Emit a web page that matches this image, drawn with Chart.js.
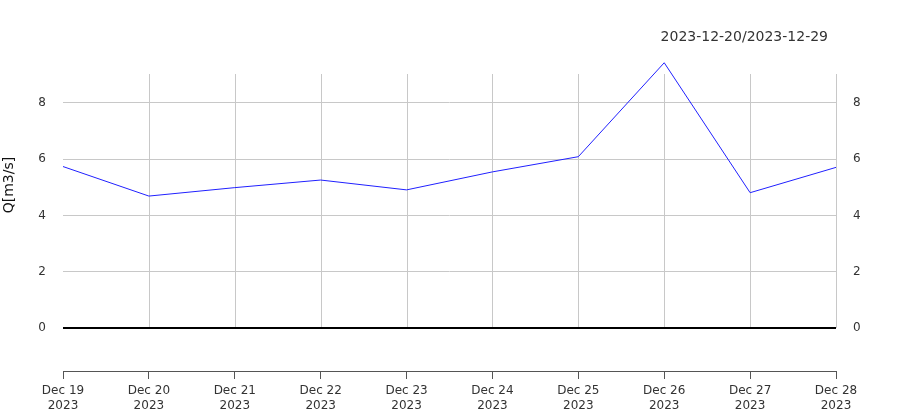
<!DOCTYPE html>
<html><head><meta charset="utf-8">
<script src="https://cdn.jsdelivr.net/npm/chart.js@4/dist/chart.umd.min.js"></script>
<style>html,body{margin:0;padding:0;background:#fff;}#wrap{width:900px;height:420px;}</style>
</head><body><div id="wrap"><canvas id="c" width="900" height="420"></canvas></div>
<script>
const categories = [["Dec 19","2023"],["Dec 20","2023"],["Dec 21","2023"],["Dec 22","2023"],["Dec 23","2023"],["Dec 24","2023"],["Dec 25","2023"],["Dec 26","2023"],["Dec 27","2023"],["Dec 28","2023"]];
const discharge = [5.74, 4.69, 4.99, 5.26, 4.91, 5.55, 6.09, 9.43, 4.81, 5.71];
const yTicks = [0, 2, 4, 6, 8];
const periodTitle = "2023-12-20/2023-12-29";
const yTitle = "Q[m3/s]";
const yMin = -1.53, yMax = 9.03;

const FONT = "'DejaVu Sans', sans-serif";
const extras = {
  id: 'extras',
  beforeDatasetsDraw(chart) {
    const {ctx, chartArea} = chart;
    const x = chart.scales.x, y = chart.scales.y;
    const y0 = y.getPixelForValue(0);
    ctx.save();
    ctx.strokeStyle = '#c8c8c8';
    ctx.lineWidth = 1;
    for (let i = 1; i < categories.length; i++) {
      const px = Math.round(x.getPixelForValue(i)) + 0.5;
      ctx.beginPath();
      ctx.moveTo(px, chartArea.top);
      ctx.lineTo(px, y0);
      ctx.stroke();
    }
    ctx.strokeStyle = '#000';
    ctx.lineWidth = 2;
    ctx.beginPath();
    ctx.moveTo(chartArea.left, y0);
    ctx.lineTo(chartArea.right, y0);
    ctx.stroke();
    ctx.restore();
  },
  afterDraw(chart) {
    const ctx = chart.ctx;
    ctx.save();
    ctx.fillStyle = '#333';
    ctx.font = "14px " + FONT;
    ctx.textAlign = 'right';
    ctx.textBaseline = 'middle';
    ctx.fillText(periodTitle, 828, 37);
    ctx.translate(9, 185);
    ctx.rotate(-Math.PI / 2);
    ctx.textAlign = 'center';
    ctx.fillStyle = '#111';
    ctx.fillText(yTitle, 0, 0);
    ctx.restore();
  }
};

const keepTicks = (scale) => { scale.ticks = yTicks.map(v => ({value: v})); };

new Chart(document.getElementById('c'), {
  type: 'line',
  data: {
    labels: categories,
    datasets: [{
      data: discharge,
      borderColor: '#2020ff',
      borderWidth: 1,
      pointRadius: 0,
      tension: 0,
      fill: false,
      clip: false,
      yAxisID: 'y'
    }]
  },
  options: {
    responsive: false,
    animation: false,
    devicePixelRatio: 1,
    layout: {padding: {top: 74, left: 0, right: 0, bottom: 0}},
    plugins: {legend: {display: false}, tooltip: {enabled: false}, title: {display: false}},
    scales: {
      x: {
        type: 'category',
        offset: false,
        grid: {drawOnChartArea: false, drawTicks: true, tickLength: 8, color: '#555'},
        border: {display: true, color: '#555', width: 1},
        ticks: {color: '#333', font: {family: FONT, size: 12}, padding: 5, maxRotation: 0, autoSkip: false},
        afterFit(s) { s.height = 49; }
      },
      y: {
        position: 'left',
        min: yMin, max: yMax,
        afterBuildTicks: keepTicks,
        grid: {color: (c) => c.tick && c.tick.value === 0 ? 'rgba(0,0,0,0)' : '#c8c8c8', drawTicks: false},
        border: {display: false},
        ticks: {color: '#333', font: {family: FONT, size: 12}, padding: 17},
        afterFit(s) { s.width = 63; }
      },
      y2: {
        position: 'right',
        min: yMin, max: yMax,
        afterBuildTicks: keepTicks,
        grid: {display: false, drawTicks: false},
        border: {display: false},
        ticks: {color: '#333', font: {family: FONT, size: 12}, padding: 17},
        afterFit(s) { s.width = 64; }
      }
    }
  },
  plugins: [extras]
});
</script></body></html>
